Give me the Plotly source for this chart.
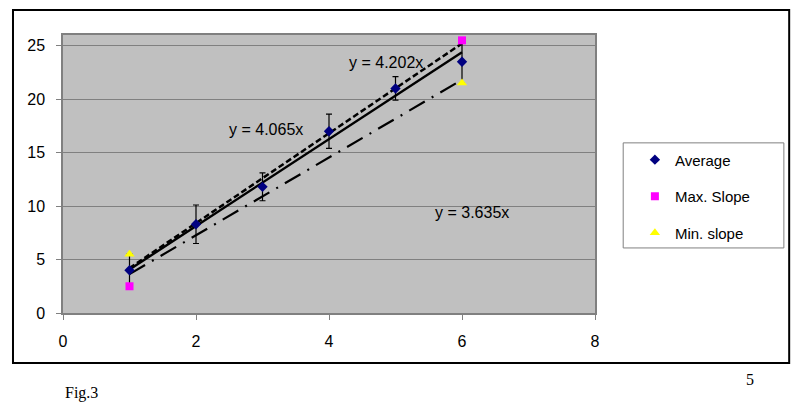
import numpy as np
import plotly.graph_objects as go

# measured points
x_avg = [1, 2, 3, 4, 5, 6]
y_avg = [4.0, 8.3, 11.8, 17.0, 21.0, 23.5]
err_avg = [1.5, 1.8, 1.3, 1.6, 1.1, 2.0]

x_max = [1, 6]
y_max = [2.5, 25.5]
x_min = [1, 6]
y_min = [5.5, 21.5]

# trendline slopes (through origin)
slope_avg = 4.065
slope_max = 4.202
slope_min = 3.635

FONT = "Liberation Sans, Arial, sans-serif"
SERIF = "Liberation Serif, Times New Roman, serif"

fig = go.Figure()

x_line = np.array([min(x_avg), max(x_avg)])

fig.add_trace(go.Scatter(
    x=x_line, y=slope_max * x_line, mode="lines",
    line=dict(color="black", width=2.5, dash="6px,3px"),
    showlegend=False, hoverinfo="skip"
))
fig.add_trace(go.Scatter(
    x=x_line, y=slope_min * x_line, mode="lines",
    line=dict(color="black", width=2.2, dash="18px,8px,2px,8px"),
    showlegend=False, hoverinfo="skip"
))
fig.add_trace(go.Scatter(
    x=x_line, y=slope_avg * x_line, mode="lines",
    line=dict(color="black", width=2.4),
    showlegend=False, hoverinfo="skip"
))

fig.add_trace(go.Scatter(
    x=x_avg, y=y_avg, mode="markers", name="Average",
    marker=dict(symbol="diamond", color="#000080", size=8),
    error_y=dict(type="data", array=err_avg, color="black", thickness=1.2, width=3),
    legendgroup="a"
))
fig.add_trace(go.Scatter(
    x=x_max, y=y_max, mode="markers", name="Max. Slope",
    marker=dict(symbol="square", color="#ff00ff", size=8),
    legendgroup="b"
))
fig.add_trace(go.Scatter(
    x=x_min, y=y_min, mode="markers", name="Min. slope",
    marker=dict(symbol="triangle-up", color="#ffff00", size=9),
    legendgroup="c"
))

# trendline labels
eq_labels = [
    (f"y = {slope_avg}x", 3.05, 17.2),
    (f"y = {slope_max}x", 4.85, 23.4),
    (f"y = {slope_min}x", 6.15, 9.4),
]
annotations = []
for text, ax_x, ax_y in eq_labels:
    annotations.append(dict(
        text=text, x=ax_x, y=ax_y, xref="x", yref="y", showarrow=False,
        font=dict(family=FONT, size=16, color="black")
    ))

annotations.append(dict(
    text="Fig.3", x=0.0, y=-0.288, xref="paper", yref="paper", showarrow=False,
    xanchor="left", yanchor="middle", font=dict(family=SERIF, size=16, color="black")
))
annotations.append(dict(
    text="5", x=1.291, y=-0.241, xref="paper", yref="paper", showarrow=False,
    xanchor="center", yanchor="middle", font=dict(family=SERIF, size=16, color="black")
))

shapes = [
    # outer chart border
    dict(type="rect", xref="paper", yref="paper", x0=-0.094, x1=1.365, y0=-0.18, y1=1.09,
         line=dict(color="black", width=2), layer="below"),
    # legend box
    dict(type="rect", xref="paper", yref="paper", x0=1.053, x1=1.355, y0=0.234, y1=0.612,
         line=dict(color="#808080", width=1), fillcolor="white"),
]

fig.update_layout(
    width=792, height=406,
    margin=dict(l=55, r=205, t=27, b=101),
    paper_bgcolor="white",
    plot_bgcolor="#c0c0c0",
    font=dict(family=FONT, size=16, color="black"),
    xaxis=dict(
        range=[0, 8], dtick=2, showgrid=False, zeroline=False,
        showline=True, mirror=True, linecolor="#808080", linewidth=1.5,
        ticks="outside", ticklen=5, tickcolor="#808080", ticklabelstandoff=8
    ),
    yaxis=dict(
        range=[0, 26], tickvals=[0, 5, 10, 15, 20, 25], showgrid=True,
        gridcolor="#808080", gridwidth=1, zeroline=False,
        showline=True, mirror=True, linecolor="#808080", linewidth=1.5,
        ticks="outside", ticklen=5, tickcolor="#808080", ticklabelstandoff=8
    ),
    legend=dict(
        x=1.075, y=0.61, xanchor="left", yanchor="top",
        bgcolor="rgba(0,0,0,0)", borderwidth=0,
        font=dict(family=FONT, size=15, color="black"),
        traceorder="grouped", tracegroupgap=14, itemwidth=30
    ),
    annotations=annotations,
    shapes=shapes,
)

fig.write_html("out.html")
